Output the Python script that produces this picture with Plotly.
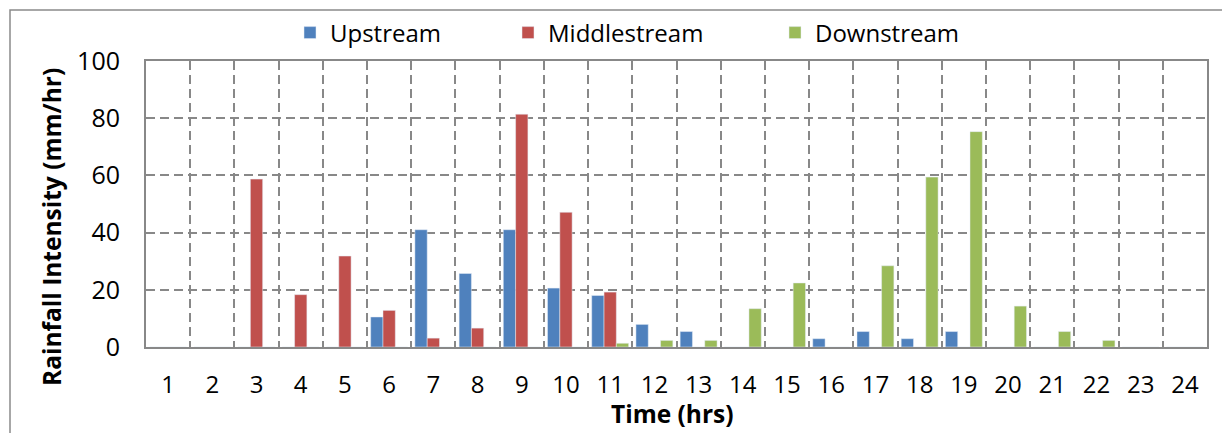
import plotly.graph_objects as go

hours = list(range(1, 25))
upstream = [0, 0, 0, 0, 0, 10.5, 41, 25.7, 41, 20.6, 18, 7.9, 5.4, 0, 0, 2.9, 5.4, 2.9, 5.4, 0, 0, 0, 0, 0]
middlestream = [0, 0, 58.7, 18.3, 31.8, 12.8, 3.1, 6.6, 81.4, 47.1, 19.2, 0, 0, 0, 0, 0, 0, 0, 0, 0, 0, 0, 0, 0]
downstream = [0, 0, 0, 0, 0, 0, 0, 0, 0, 0, 1.3, 2.3, 2.3, 13.4, 22.4, 0, 28.4, 59.4, 75.3, 14.3, 5.4, 2.3, 0, 0]

FONT = "Open Sans"
GRID = "#888888"

fig = go.Figure()
fig.add_trace(go.Bar(x=hours, y=upstream, name="Upstream", marker_color="#4F81BD", legend="legend", showlegend=True))
fig.add_trace(go.Bar(x=hours, y=middlestream, name="Middlestream", marker_color="#C0504D", legend="legend2", showlegend=True))
fig.add_trace(go.Bar(x=hours, y=downstream, name="Downstream", marker_color="#9BBB59", legend="legend3", showlegend=True))

W, H = 1222, 433
L, R, T, B = 146, 15, 61, 86
pw, ph = W - L - R, H - T - B

def px_x(p):
    return (p - L) / pw

def px_y(p):
    return (H - B - p) / ph

leg_common = dict(orientation="h", yanchor="middle", xanchor="left", bgcolor="rgba(0,0,0,0)",
                  xref="container", yref="container", y=1 - 33 / H,
                  font=dict(family=FONT, size=24, color="#000"))
fig.update_layout(
    width=W, height=H,
    margin=dict(l=L, r=R, t=T, b=B, autoexpand=False),
    paper_bgcolor="white", plot_bgcolor="white",
    showlegend=True,
    barmode="group", bargap=0.165, bargroupgap=0,
    font=dict(family=FONT, color="#000"),
    legend=dict(x=290 / W, **leg_common),
    legend2=dict(x=508 / W, **leg_common),
    legend3=dict(x=775 / W, **leg_common),
    xaxis=dict(
        range=[0.5, 24.5], tickmode="array", tickvals=hours, ticktext=[str(h) for h in hours],
        showgrid=False, zeroline=False, ticks="", ticklabelstandoff=15, automargin=False,
        tickfont=dict(family=FONT, size=24, color="#000"),
        showline=True, linecolor=GRID, linewidth=2, mirror=True,
        minor=dict(tick0=0.5, dtick=1, showgrid=True, gridcolor=GRID, gridwidth=1.6, griddash="9px,5px", ticks=""),
    ),
    yaxis=dict(
        range=[0, 100], dtick=20, showgrid=True, gridcolor=GRID, gridwidth=1.6, griddash="9px,5px",
        zeroline=False, ticks="", ticklabelstandoff=19, automargin=False,
        tickfont=dict(family=FONT, size=25, color="#000"),
        showline=True, linecolor=GRID, linewidth=2, mirror=True,
    ),
    annotations=[
        dict(text="<b>Time (hrs)</b>", xref="paper", yref="paper", x=px_x(672), y=px_y(413),
             xanchor="center", yanchor="middle", showarrow=False,
             font=dict(family=FONT, size=24.5, color="#000")),
        dict(text="<b>Rainfall Intensity (mm/hr)</b>", xref="paper", yref="paper", x=px_x(51), y=px_y(227),
             xanchor="center", yanchor="middle", showarrow=False, textangle=-90,
             font=dict(family=FONT, size=24.5, color="#000")),
    ],
    shapes=[dict(type="rect", xref="paper", yref="paper",
                 x0=px_x(10), x1=px_x(1260), y0=px_y(480), y1=px_y(10),
                 line=dict(color="#8a8a8a", width=1.5), fillcolor="rgba(0,0,0,0)", layer="below")],
)

fig.write_html("out.html", config={"displayModeBar": False},
               post_script="document.body.style.margin='0';document.body.style.overflow='hidden';")
